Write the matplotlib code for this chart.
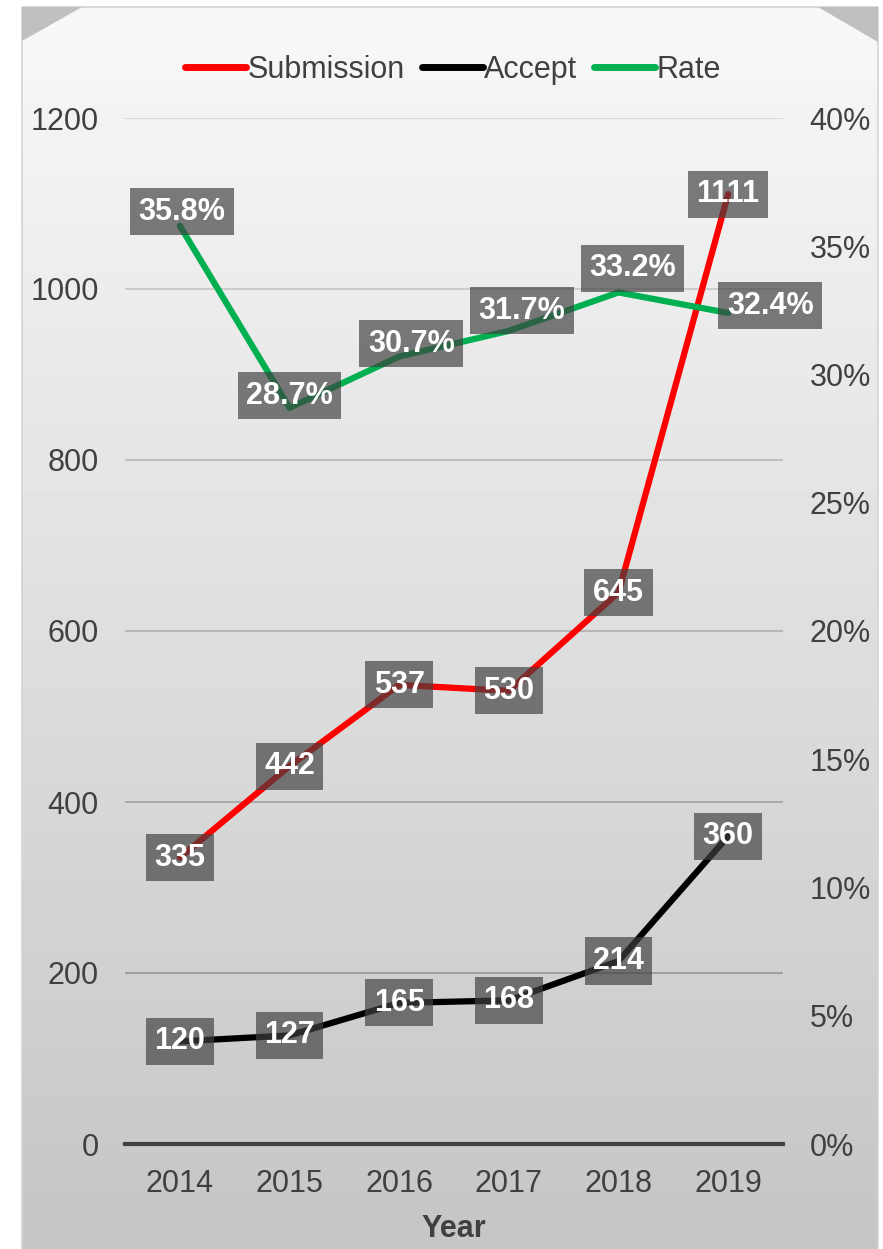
"""Submission / accept counts and acceptance rate per year."""

import matplotlib
matplotlib.use("Agg")
import matplotlib.pyplot as plt
import numpy as np
from matplotlib.lines import Line2D
from matplotlib.patches import Polygon, Rectangle
from matplotlib.ticker import PercentFormatter

plt.rcParams["font.family"] = ["Liberation Sans", "DejaVu Sans"]

years = ["2014", "2015", "2016", "2017", "2018", "2019"]
submission = [335, 442, 537, 530, 645, 1111]
accept = [120, 127, 165, 168, 214, 360]
rate = [0.358, 0.287, 0.307, 0.317, 0.332, 0.324]

# label nudges for the rate labels (pixels), counts sit centred on the point
rate_offsets = [(2, 14), (0, 12), (12, 13), (13, 20), (14, 24), (42, 7)]

W, H = 883, 1249
TXT = "#404040"

fig = plt.figure(figsize=(W / 100, H / 100), dpi=100)

# background panel with gradient and bevelled top corners
bg = fig.add_axes([0, 0, 1, 1], zorder=-1)
bg.set_xlim(0, W)
bg.set_ylim(H, 0)
bg.axis("off")
grad = np.linspace(248, 197, 256)[:, None] / 255.0
bg.imshow(np.repeat(grad, 2, axis=1), cmap="gray", vmin=0, vmax=1,
          extent=(22, 878, H, 7), aspect="auto", interpolation="bilinear")
bg.add_patch(Rectangle((22, 7), 856, H, fill=False, edgecolor="#d4d4d4", lw=1.2))
bg.add_patch(Polygon([(22, 7), (82, 7), (22, 41)], closed=True, color="#bfbfbf", lw=0))
bg.add_patch(Polygon([(818, 7), (878, 7), (878, 42)], closed=True, color="#bfbfbf", lw=0))

ax = fig.add_axes([125 / W, 105 / H, 658 / W, 1026 / H])
ax.patch.set_visible(False)
x = np.arange(len(years))
ax.set_xlim(-0.5, len(years) - 0.5)
ax.set_ylim(0, 1200)
ax.set_yticks(np.arange(0, 1201, 200))
ax.set_xticks(x)
ax.set_xticklabels(years)
ax.set_axisbelow(True)
ax.grid(axis="y", linewidth=1.5)
for gl, t in zip(ax.get_ygridlines(), ax.get_yticks()):
    g = (215 - (1200 - t) / 1000 * 55) / 255.0
    gl.set_color((g, g, g))
for s in ["top", "left", "right"]:
    ax.spines[s].set_visible(False)
ax.spines["bottom"].set_color(TXT)
ax.spines["bottom"].set_linewidth(3)
ax.spines["bottom"].set_zorder(3)
ax.tick_params(axis="y", length=0, pad=19, labelsize=22, labelcolor=TXT)
ax.tick_params(axis="x", length=0, pad=18, labelsize=22, labelcolor=TXT)
ax.set_xlabel("Year", fontsize=22, fontweight="bold", color=TXT, labelpad=11)

ax.plot(x, submission, color="#ff0000", lw=4.5, solid_joinstyle="round",
        solid_capstyle="round")
ax.plot(x, accept, color="#000000", lw=4.5, solid_joinstyle="round",
        solid_capstyle="round")

ax2 = ax.twinx()
ax2.set_ylim(0, 0.4)
ax2.set_yticks(np.arange(0, 0.401, 0.05))
ax2.yaxis.set_major_formatter(PercentFormatter(1.0, decimals=0))
for s in ax2.spines.values():
    s.set_visible(False)
ax2.tick_params(axis="y", length=0, pad=19, labelsize=22, labelcolor=TXT)
ax2.plot(x, rate, color="#00b050", lw=4.5, solid_joinstyle="round",
         solid_capstyle="round")

box = dict(boxstyle="square,pad=0.28", facecolor="#404040", alpha=0.68, edgecolor="none")
lab = dict(ha="center", va="center", fontsize=22, fontweight="bold", color="white",
           bbox=box, annotation_clip=False)
for i in x:
    ax2.annotate(str(submission[i]), xy=(i, submission[i]), xycoords=ax.transData, **lab)
    ax2.annotate(str(accept[i]), xy=(i, accept[i]), xycoords=ax.transData, **lab)
    dx, dy = rate_offsets[i]
    ax2.annotate(f"{rate[i] * 100:.1f}%", xy=(i, rate[i]), xytext=(dx, dy),
                 textcoords="offset pixels", **lab)

handles = [Line2D([], [], color=c, lw=5, solid_capstyle="round")
           for c in ["#ff0000", "#000000", "#00b050"]]
fig.legend(handles, ["Submission", "Accept", "Rate"], loc="center",
           bbox_to_anchor=(453 / W, 1 - 70 / H), ncol=3, frameon=False,
           fontsize=22, labelcolor=TXT, handlelength=2.0, handletextpad=0.05,
           columnspacing=0.55)

fig.savefig("out.png", dpi=100)
